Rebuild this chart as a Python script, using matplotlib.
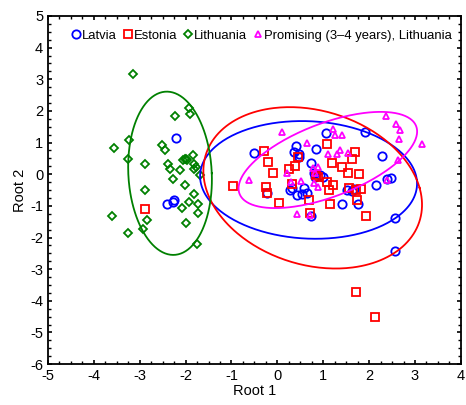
import numpy as np
import matplotlib
matplotlib.use("Agg")
import matplotlib.pyplot as plt
from matplotlib.ticker import MultipleLocator

plt.rcParams['font.family'] = ['Liberation Sans', 'DejaVu Sans']
plt.rcParams['axes.unicode_minus'] = False

# root scores
latvia_x = [-2.21, -2.25, -2.28, -2.40, -0.50, 0.40, 0.36, 0.48, 0.85, 1.05, 1.90, 0.74,
            0.80, 0.83, 0.93, 1.00, -0.23, 0.27, 0.43, 0.58, 0.65, 0.53, 0.31, 0.47,
            0.74, 1.40, 1.75, 1.51, 1.62, 1.67, 2.16, 2.40, 2.48, 2.29, 2.57, 2.57]
latvia_y = [1.15, -0.82, -0.87, -0.95, 0.66, 0.89, 0.71, 0.64, 0.81, 1.29, 1.34, 0.36,
            0.03, -0.08, -0.03, -0.08, -0.58, -0.50, -0.66, -0.45, -0.60, -0.63, -0.45, 0.53,
            -1.31, -0.95, -0.95, -0.50, -0.52, -0.48, -0.34, -0.16, -0.13, 0.58, -1.38, -2.43]

estonia_x = [-2.89, -0.96, -0.29, -0.20, -0.09, -0.25, -0.22, 0.04, 0.26, 0.39, 0.45, 0.32,
             0.69, 0.72, 0.84, 0.89, 1.09, 1.18, 1.12, 1.70, 1.62, 1.40, 1.53, 1.78,
             1.09, 1.22, 1.56, 1.71, 1.83, 1.14, 1.74, 1.94, 1.72, 2.13]
estonia_y = [-1.10, -0.36, 0.73, 0.38, 0.03, -0.39, -0.60, -0.90, 0.15, 0.26, 0.53, -0.32,
             -0.82, -1.22, -0.03, -0.08, 0.94, 0.34, -0.50, 0.69, 0.47, 0.24, 0.03, 0.00,
             -0.24, -0.34, -0.43, -0.50, -0.47, -0.95, -0.82, -1.31, -3.73, -4.51]

lithuania_x = [-3.15, -2.23, -1.93, -1.91, -3.23, -3.56, -2.52, -2.44, -3.26, -1.85, -2.06,
               -2.02, -1.99, -1.97, -2.89, -2.39, -1.82, -2.34, -2.12, -1.82, -1.78, -1.69,
               -2.28, -2.01, -2.89, -1.82, -1.93, -1.74, -2.07, -1.74, -3.61, -2.85, -1.99,
               -3.26, -2.94, -1.75]
lithuania_y = [3.18, 1.85, 2.08, 1.89, 1.07, 0.83, 0.91, 0.76, 0.47, 0.61, 0.46,
               0.47, 0.48, 0.46, 0.32, 0.32, 0.32, 0.15, 0.13, 0.15, 0.22, -0.04,
               -0.15, -0.35, -0.50, -0.63, -0.89, -0.93, -1.06, -1.22, -1.32, -1.45, -1.55,
               -1.87, -1.74, -2.21]

promising_x = [0.11, 0.65, -0.62, 0.43, 0.22, 0.51, 0.78, 0.89, 0.82, 0.80, 0.72, 1.22,
               1.25, 1.40, 1.11, 1.30, 1.36, 1.54, 0.89, 2.38, 2.36, 2.58, 2.68, 2.65,
               3.15, 2.63, 0.29]
promising_y = [1.32, 0.98, -0.19, -1.26, 0.05, -0.20, 0.19, 0.22, 0.03, -0.29, -1.28, 1.42,
               1.24, 1.24, 0.63, 0.63, 0.76, 0.66, -0.41, -0.18, 1.85, 1.58, 1.40, 1.10,
               0.95, 0.45, -0.25]

# ellipses: center, half horizontal chord, top conjugate vector
ell_center = {'lat': (0.68, -0.18), 'est': (0.77, -0.43), 'lit': (-2.34, 0.03), 'pro': (1.10, 0.45)}
ell_h = {'lat': 2.36, 'est': 2.33, 'lit': 0.91, 'pro': 1.57}
ell_top = {'lat': (-0.15, 1.86), 'est': (-0.50, 2.55), 'lit': (-0.07, 2.58), 'pro': (1.15, 1.52)}

colors = {'lat': '#0000ff', 'est': '#ff0000', 'lit': '#008000', 'pro': '#ff00ff'}

fig = plt.figure(figsize=(4.66, 4.05), dpi=100)
ax = fig.add_axes([0.103, 0.101, 0.886, 0.8595])

ax.plot(latvia_x, latvia_y, 'o', mfc='none', mec=colors['lat'], mew=1.3, ms=6, label='Latvia')
ax.plot(estonia_x, estonia_y, 's', mfc='none', mec=colors['est'], mew=1.3, ms=5.8, label='Estonia')
ax.plot(lithuania_x, lithuania_y, 'D', mfc='none', mec=colors['lit'], mew=1.3, ms=3.8, label='Lithuania')
ax.plot(promising_x, promising_y, '^', mfc='none', mec=colors['pro'], mew=1.3, ms=4.8,
        label='Promising (3\u20134 years), Lithuania')

t = np.linspace(0, 2 * np.pi, 300)
for k in ['lat', 'est', 'lit', 'pro']:
    cx, cy = ell_center[k]
    vx, vy = ell_top[k]
    ex = cx + ell_h[k] * np.cos(t) + vx * np.sin(t)
    ey = cy + vy * np.sin(t)
    ax.plot(ex, ey, '-', color=colors[k], lw=1.3)

ax.set_xlim(-5, 4)
ax.set_ylim(-6, 5)
ax.xaxis.set_major_locator(MultipleLocator(1))
ax.yaxis.set_major_locator(MultipleLocator(1))
ax.xaxis.set_minor_locator(MultipleLocator(0.25))
ax.yaxis.set_minor_locator(MultipleLocator(0.25))
ax.tick_params(which='both', direction='in', top=True, right=True, labelsize=10.5)
ax.tick_params(which='major', length=3, width=1.2)
ax.tick_params(which='minor', length=2, width=1)
for s in ax.spines.values():
    s.set_linewidth(1.3)

ax.set_xlabel('Root 1', fontsize=10.5, labelpad=1)
ax.set_ylabel('Root 2', fontsize=10.5, labelpad=2)

ax.legend(ncol=4, loc='upper left', bbox_to_anchor=(0.045, 0.975), frameon=False,
          fontsize=9.4, handlelength=0.6, handletextpad=0.15, columnspacing=0.55,
          borderaxespad=0)

fig.savefig('out.png', dpi=100)
